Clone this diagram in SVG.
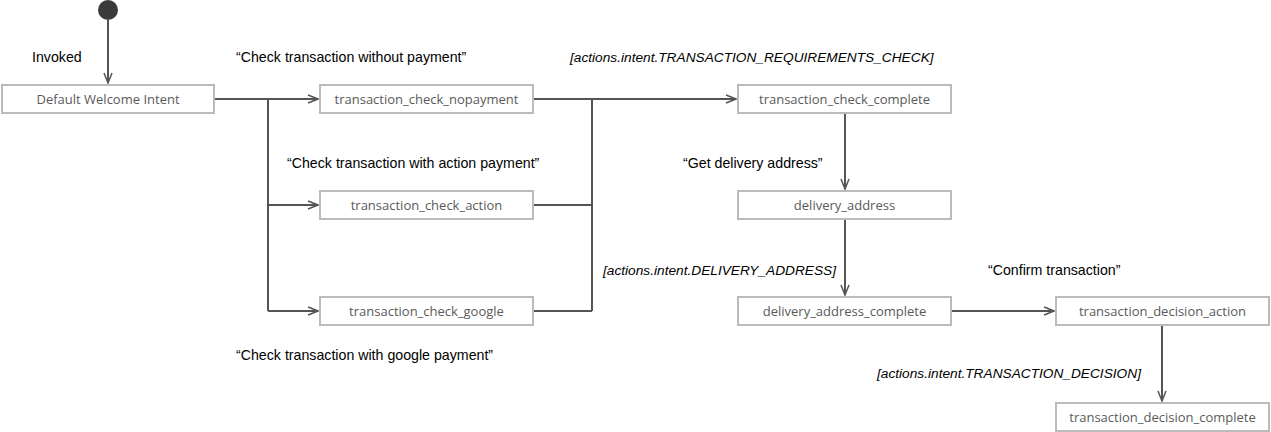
<svg xmlns="http://www.w3.org/2000/svg" width="1271" height="432" viewBox="0 0 1271 432">
<defs>
<marker id="arr" markerWidth="12" markerHeight="10" refX="11" refY="5" orient="auto" markerUnits="userSpaceOnUse">
<path d="M1,1 L11,5 L1,9" fill="none" stroke="#555" stroke-width="1.5"/>
</marker>
<style>
.box{fill:#fff;stroke:#bbb;stroke-width:2}
.bt{font-family:"Open Sans","Noto Sans",sans-serif;font-size:13px;fill:#5a5a5a;text-anchor:middle;dominant-baseline:central}
.lbl{font-family:"Liberation Sans",Arial,sans-serif;font-size:14.2px;fill:#000}
.it{font-style:italic;font-size:13.7px}
.c{fill:none;stroke:#555;stroke-width:2}
</style>
</defs>
<rect width="1271" height="432" fill="#fff"/>
<g id="start"><circle cx="108" cy="10" r="10" fill="#3a3a3a"/></g>
<g id="connectors">
<path class="c" d="M108,20 V83" marker-end="url(#arr)"/>
<path class="c" d="M214,99 H318" marker-end="url(#arr)"/>
<path class="c" d="M268,99 V311"/>
<path class="c" d="M268,205 H318" marker-end="url(#arr)"/>
<path class="c" d="M268,311 H318" marker-end="url(#arr)"/>
<path class="c" d="M533,99 H736" marker-end="url(#arr)"/>
<path class="c" d="M592,99 V311"/>
<path class="c" d="M533,205 H592"/>
<path class="c" d="M533,311 H592"/>
<path class="c" d="M845,113 V189" marker-end="url(#arr)"/>
<path class="c" d="M845,219 V295" marker-end="url(#arr)"/>
<path class="c" d="M951,311 H1054" marker-end="url(#arr)"/>
<path class="c" d="M1162,325 V401" marker-end="url(#arr)"/>
</g>
<g id="labels">
<text class="lbl" x="32" y="62">Invoked</text>
<text class="lbl" x="236" y="62">“Check transaction without payment”</text>
<text class="lbl" x="287" y="168">“Check transaction with action payment”</text>
<text class="lbl" x="236" y="360">“Check transaction with google payment”</text>
<text class="lbl it" x="570" y="62">[actions.intent.TRANSACTION_REQUIREMENTS_CHECK]</text>
<text class="lbl" x="683" y="168">“Get delivery address”</text>
<text class="lbl it" x="603" y="275">[actions.intent.DELIVERY_ADDRESS]</text>
<text class="lbl" x="988" y="275">“Confirm transaction”</text>
<text class="lbl it" x="877" y="378">[actions.intent.TRANSACTION_DECISION]</text>
</g>
<g id="n_default"><rect class="box" x="2" y="85" width="212" height="28"/><text class="bt" x="108" y="99">Default Welcome Intent</text></g>
<g id="n_nopayment"><rect class="box" x="320" y="85" width="213" height="28"/><text class="bt" x="426.5" y="99">transaction_check_nopayment</text></g>
<g id="n_action"><rect class="box" x="320" y="191" width="213" height="28"/><text class="bt" x="426.5" y="205">transaction_check_action</text></g>
<g id="n_google"><rect class="box" x="320" y="297" width="213" height="28"/><text class="bt" x="426.5" y="311">transaction_check_google</text></g>
<g id="n_check_complete"><rect class="box" x="738" y="85" width="213" height="28"/><text class="bt" x="844.5" y="99">transaction_check_complete</text></g>
<g id="n_delivery"><rect class="box" x="738" y="191" width="213" height="28"/><text class="bt" x="844.5" y="205">delivery_address</text></g>
<g id="n_delivery_complete"><rect class="box" x="738" y="297" width="213" height="28"/><text class="bt" x="844.5" y="311">delivery_address_complete</text></g>
<g id="n_decision_action"><rect class="box" x="1056" y="297" width="213" height="28"/><text class="bt" x="1162.5" y="311">transaction_decision_action</text></g>
<g id="n_decision_complete"><rect class="box" x="1056" y="403" width="213" height="28"/><text class="bt" x="1162.5" y="417">transaction_decision_complete</text></g>
</svg>
